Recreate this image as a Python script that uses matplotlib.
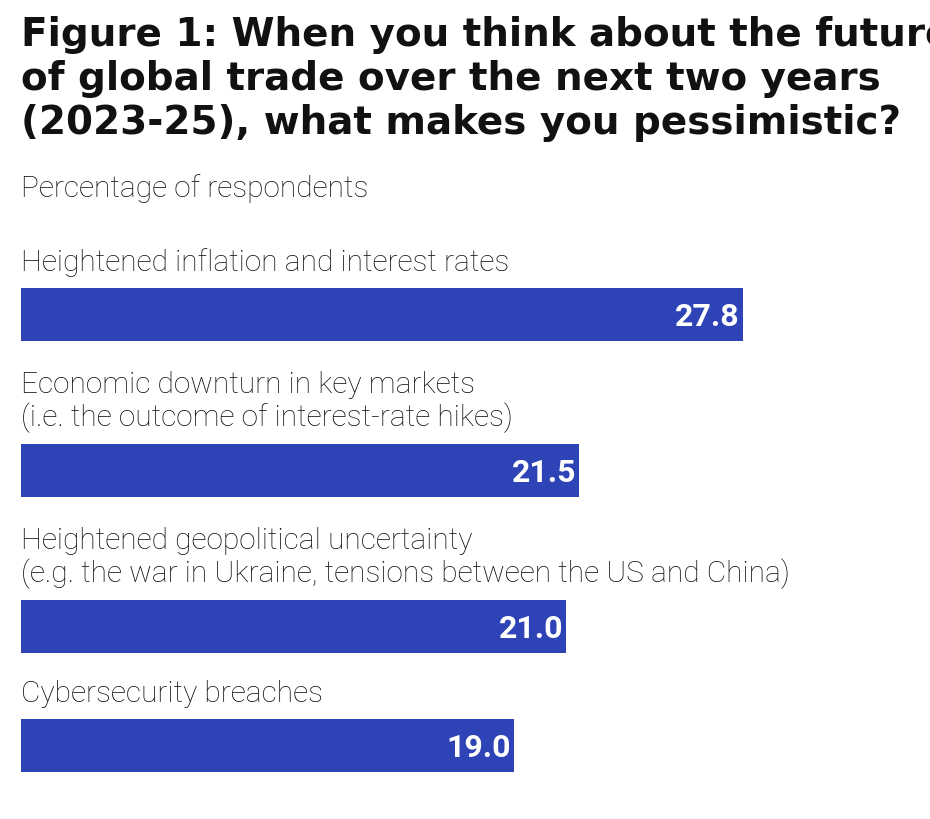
import matplotlib
matplotlib.use("Agg")
import matplotlib.pyplot as plt

# data
labels = [
    "Heightened inflation and interest rates",
    "Economic downturn in key markets\n(i.e. the outcome of interest-rate hikes)",
    "Heightened geopolitical uncertainty\n(e.g. the war in Ukraine, tensions between the US and China)",
    "Cybersecurity breaches",
]
values = [27.8, 21.5, 21.0, 19.0]

# layout (pixel rows on a 930x820 canvas)
bar_centres = [315.5, 471.5, 627.5, 746.5]
bar_height = 53
label_bottoms = [277, 433, 589, 708]
bar_color = "#2e44b6"

fig = plt.figure(figsize=(9.3, 8.2), dpi=100)
ax = fig.add_axes([21 / 930, 0, 909 / 930, 1])
ax.set_xlim(0, 35)
ax.set_ylim(820, 0)
ax.axis("off")

ax.barh(bar_centres, values, height=bar_height, color=bar_color, align="center")

for y, v in zip(bar_centres, values):
    ax.text(v - 0.12, y + 2, f"{v:.1f}", color="white", fontsize=23,
            fontweight="bold", ha="right", va="center", family="Roboto")

for yb, lab in zip(label_bottoms, labels):
    ax.text(0, yb, lab, fontsize=21.5, ha="left", va="bottom", family="Roboto",
            fontweight="light", linespacing=1.15, color="#111111")

fig.text(21 / 930, 1 - 16 / 820,
         "Figure 1: When you think about the future\n"
         "of global trade over the next two years\n"
         "(2023-25), what makes you pessimistic?",
         fontsize=28, fontweight="bold", ha="left", va="top",
         family="DejaVu Sans", linespacing=1.2, color="#111111")
fig.text(21 / 930, 1 - 203 / 820, "Percentage of respondents", fontsize=21.5,
         ha="left", va="bottom", family="Roboto", fontweight="light", color="#111111")

fig.savefig("out.png", dpi=100, facecolor="white")
